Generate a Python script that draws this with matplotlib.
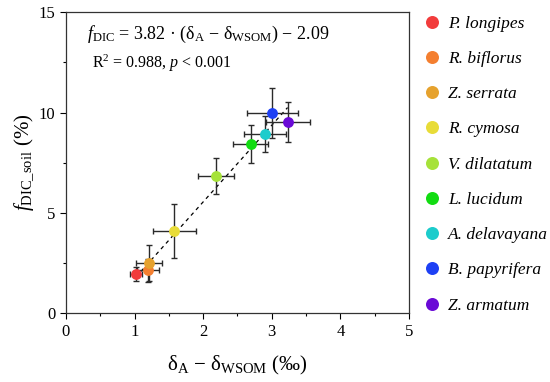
import matplotlib
matplotlib.use('Agg')
import matplotlib.pyplot as plt
from matplotlib.ticker import MultipleLocator
import numpy as np

plt.rcParams['font.family'] = ['Liberation Serif', 'DejaVu Serif']
plt.rcParams['mathtext.fontset'] = 'custom'
plt.rcParams['mathtext.rm'] = 'Liberation Serif'
plt.rcParams['mathtext.it'] = 'Liberation Serif:italic'

species = ['P. longipes', 'R. biflorus', 'Z. serrata', 'R. cymosa', 'V. dilatatum',
           'L. lucidum', 'A. delavayana', 'B. papyrifera', 'Z. armatum']
x = [1.02, 1.19, 1.21, 1.58, 2.19, 2.69, 2.90, 3.01, 3.23]
y = [1.96, 2.13, 2.49, 4.09, 6.83, 8.44, 8.93, 9.98, 9.52]
xerr = [0.09, 0.16, 0.19, 0.31, 0.26, 0.25, 0.30, 0.37, 0.32]
yerr = [0.35, 0.55, 0.90, 1.33, 0.91, 0.93, 0.92, 1.25, 1.00]
colors = ['#f23c3c', '#f47f30', '#e6a22e', '#e8dc38', '#a6e23a',
          '#12dc12', '#1ccccc', '#1e40f4', '#6a0ad6']
slope, intercept = 3.82, -2.09

fig = plt.figure(figsize=(5.5, 3.82), dpi=100)
ax = fig.add_axes([0.12, 0.18, 0.6236, 0.788])

xs = np.array([min(x), max(x)])
ax.plot(xs, slope * xs + intercept, 'k--', lw=0.9, dashes=(3, 3), zorder=1)
ax.errorbar(x, y, xerr=xerr, yerr=yerr, fmt='none', ecolor='#2a2a2a',
            elinewidth=1.0, capsize=2.5, capthick=1.0, zorder=2)
for xi, yi, c, s in zip(x, y, colors, species):
    ax.plot(xi, yi, 'o', ms=7.8, color=c, mec='none', label=s, zorder=3)

ax.set_xlim(0, 5)
ax.set_ylim(0, 15)
ax.xaxis.set_major_locator(MultipleLocator(1))
ax.xaxis.set_minor_locator(MultipleLocator(0.5))
ax.yaxis.set_major_locator(MultipleLocator(5))
ax.yaxis.set_minor_locator(MultipleLocator(2.5))
ax.tick_params(which='both', direction='out', labelsize=12, width=0.8)
ax.tick_params(which='major', length=4)
ax.tick_params(which='minor', length=2.5)
for sp in ax.spines.values():
    sp.set_color('#333333')
    sp.set_linewidth(0.9)

ax.set_xlabel(r'$\mathrm{\delta_A}$ $-$ $\mathrm{\delta_{WSOM}}$ (‰)', fontsize=15, labelpad=10)
ax.set_ylabel(r'$f_{\mathrm{DIC\_soil}}$ (%)', fontsize=15, labelpad=2)

ax.text(0.06, 0.96, r'$f_{\mathrm{DIC}}$ = 3.82 · ($\mathrm{\delta_A}$ $-$ $\mathrm{\delta_{WSOM}}$) $-$ 2.09',
        transform=ax.transAxes, fontsize=13, va='top')
ax.text(0.075, 0.865, r'R$^2$ = 0.988, $p$ < 0.001',
        transform=ax.transAxes, fontsize=11.5, va='top')

leg = ax.legend(loc='upper left', bbox_to_anchor=(1.02, 1.012), frameon=False,
                prop={'style': 'italic', 'size': 12.5}, handletextpad=0.35,
                handlelength=1.1, labelspacing=1.1, borderaxespad=0,
                markerscale=1.2)

fig.savefig('out.png', dpi=100)
